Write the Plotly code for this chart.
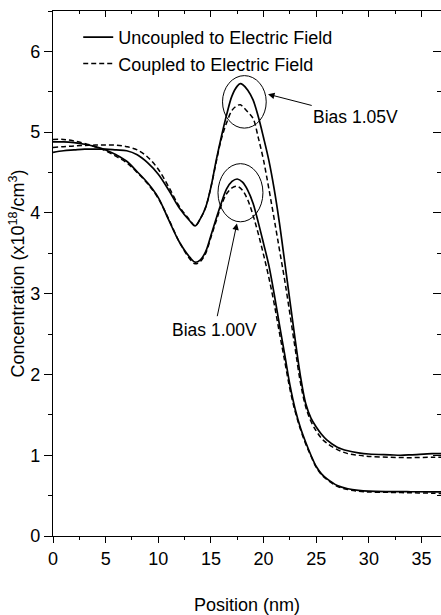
import plotly.graph_objects as go

# ---- data ----
x_u105 = [0, 1, 2, 3, 4, 5, 6, 7, 8, 9, 10, 11, 12, 13, 13.5, 14, 14.5, 15, 15.5, 16, 16.5, 17, 17.5, 17.8, 18, 18.5, 19, 19.5, 20, 20.5, 21, 21.5, 22, 22.5, 23, 23.5, 24, 24.5, 25, 25.5, 26, 27, 28, 29, 30, 32, 33, 34, 36, 36.9]
y_u105 = [4.75, 4.77, 4.78, 4.79, 4.79, 4.79, 4.78, 4.77, 4.72, 4.62, 4.48, 4.28, 4.06, 3.90, 3.84, 3.93, 4.07, 4.32, 4.65, 4.95, 5.22, 5.45, 5.57, 5.60, 5.59, 5.52, 5.40, 5.19, 4.93, 4.65, 4.30, 3.88, 3.40, 2.91, 2.43, 1.98, 1.64, 1.46, 1.35, 1.26, 1.19, 1.10, 1.055, 1.03, 1.015, 1.005, 1.0, 1.005, 1.02, 1.02]

x_c105 = [0, 1, 2, 3, 4, 5, 6, 7, 8, 9, 10, 11, 12, 13, 13.5, 14, 14.5, 15, 15.5, 16, 16.5, 17, 17.5, 17.8, 18, 18.5, 19, 19.5, 20, 20.5, 21, 21.5, 22, 22.5, 23, 23.5, 24, 24.5, 25, 25.5, 26, 27, 28, 29, 30, 32, 34, 36, 36.9]
y_c105 = [4.81, 4.82, 4.83, 4.835, 4.84, 4.84, 4.84, 4.82, 4.78, 4.69, 4.54, 4.32, 4.08, 3.91, 3.84, 3.93, 4.07, 4.32, 4.63, 4.92, 5.12, 5.27, 5.33, 5.34, 5.32, 5.25, 5.17, 4.93, 4.65, 4.30, 3.93, 3.55, 3.17, 2.75, 2.32, 1.90, 1.60, 1.42, 1.30, 1.21, 1.15, 1.07, 1.02, 1.0, 0.985, 0.975, 0.97, 0.975, 0.975]

x_u100 = [0, 1, 2, 3, 4, 5, 6, 7, 8, 9, 10, 11, 12, 13, 13.5, 14, 14.5, 15, 15.5, 16, 16.5, 17, 17.5, 18, 18.5, 19, 19.5, 20, 20.5, 21, 21.5, 22, 22.5, 23, 23.5, 24, 24.5, 25, 25.5, 26, 27, 28, 29, 30, 32, 34, 36, 36.9]
y_u100 = [4.88, 4.88, 4.87, 4.85, 4.82, 4.78, 4.72, 4.64, 4.51, 4.37, 4.19, 3.91, 3.64, 3.45, 3.39, 3.42, 3.52, 3.72, 3.93, 4.13, 4.30, 4.39, 4.42, 4.38, 4.28, 4.12, 3.88, 3.62, 3.35, 3.00, 2.62, 2.25, 1.87, 1.57, 1.34, 1.16, 1.00, 0.86, 0.77, 0.71, 0.625, 0.585, 0.565, 0.555, 0.55, 0.548, 0.547, 0.545]

x_c100 = [0, 1, 2, 3, 4, 5, 6, 7, 8, 9, 10, 11, 12, 13, 13.5, 14, 14.5, 15, 15.5, 16, 16.5, 17, 17.5, 18, 18.5, 19, 19.5, 20, 20.5, 21, 21.5, 22, 22.5, 23, 23.5, 24, 24.5, 25, 25.5, 26, 27, 28, 29, 30, 32, 34, 36, 36.9]
y_c100 = [4.91, 4.91, 4.89, 4.86, 4.82, 4.77, 4.70, 4.62, 4.50, 4.36, 4.18, 3.92, 3.64, 3.43, 3.37, 3.40, 3.50, 3.70, 3.90, 4.10, 4.24, 4.31, 4.33, 4.28, 4.16, 3.97, 3.74, 3.48, 3.20, 2.88, 2.52, 2.17, 1.82, 1.54, 1.32, 1.14, 0.99, 0.85, 0.76, 0.70, 0.615, 0.575, 0.555, 0.545, 0.54, 0.535, 0.53, 0.525]

legend_names = ["Uncoupled to Electric Field", "Coupled to Electric Field"]
bias_labels = ["Bias 1.05V", "Bias 1.00V"]

XR = [0, 36.85]
YR = [0, 6.5]
FONT = "Liberation Sans, Arial, sans-serif"

fig = go.Figure()
solid = dict(color="black", width=1.7)
dashed = dict(color="black", width=1.5, dash="5px,3px")

fig.add_trace(go.Scatter(x=x_u105, y=y_u105, mode="lines", line=solid, line_shape="spline",
                         name=legend_names[0], legendgroup="u", showlegend=True))
fig.add_trace(go.Scatter(x=x_c105, y=y_c105, mode="lines", line=dashed, line_shape="spline",
                         name=legend_names[1], legendgroup="c", showlegend=True))
fig.add_trace(go.Scatter(x=x_u100, y=y_u100, mode="lines", line=solid, line_shape="spline",
                         name=legend_names[0], legendgroup="u", showlegend=False))
fig.add_trace(go.Scatter(x=x_c100, y=y_c100, mode="lines", line=dashed, line_shape="spline",
                         name=legend_names[1], legendgroup="c", showlegend=False))
# dummy trace to activate mirror axes (top/right, inward ticks)
fig.add_trace(go.Scatter(x=[None], y=[None], xaxis="x2", yaxis="y2", showlegend=False,
                         hoverinfo="skip"))

# circles around peaks
fig.add_shape(type="circle", xref="x", yref="y", x0=16.1, x1=20.25, y0=5.05, y1=5.70,
              line=dict(color="black", width=1))
fig.add_shape(type="circle", xref="x", yref="y", x0=15.67, x1=19.94, y0=3.89, y1=4.61,
              line=dict(color="black", width=1))

# labels with arrows
fig.add_annotation(x=20.42, y=5.47, ax=28.75, ay=5.19, xref="x", yref="y", axref="x", ayref="y",
                   text=bias_labels[0], showarrow=True, arrowhead=2, arrowsize=1.3, arrowwidth=1,
                   arrowcolor="black", standoff=0, startstandoff=0,
                   font=dict(family=FONT, size=17.5, color="black"))
fig.add_annotation(x=17.47, y=3.87, ax=15.33, ay=2.555, xref="x", yref="y", axref="x", ayref="y",
                   text=bias_labels[1], showarrow=True, arrowhead=2, arrowsize=1.3, arrowwidth=1,
                   arrowcolor="black", standoff=0, startstandoff=2,
                   font=dict(family=FONT, size=17.5, color="black"))

fig.update_layout(
    width=441, height=615,
    margin=dict(l=53, r=0, t=11, b=70),
    paper_bgcolor="white", plot_bgcolor="white",
    font=dict(family=FONT, size=18, color="black"),
    showlegend=True,
    legend=dict(x=0.065, y=0.985, xanchor="left", yanchor="top", bgcolor="rgba(0,0,0,0)",
                font=dict(family=FONT, size=18), tracegroupgap=0, itemwidth=30),
    xaxis=dict(range=XR, showgrid=False, zeroline=False, showline=True, linecolor="black", linewidth=1.3,
               ticks="outside", ticklen=6, tickwidth=1.3, tickcolor="black", dtick=5, tick0=0,
               minor=dict(ticks="outside", ticklen=3, tickwidth=1.3, dtick=2.5, tick0=0, tickcolor="black"),
               title=dict(text="Position (nm)", standoff=34, font=dict(size=18)),
               tickfont=dict(size=18)),
    yaxis=dict(range=YR, showgrid=False, zeroline=False, showline=True, linecolor="black", linewidth=1.3,
               ticks="outside", ticklen=8, tickwidth=1.3, tickcolor="black", dtick=1, tick0=0,
               minor=dict(ticks="outside", ticklen=4, tickwidth=1.3, dtick=0.5, tick0=0, tickcolor="black"),
               title=dict(text="Concentration (x10<sup>18</sup>/cm<sup>3</sup>)", standoff=0, font=dict(size=18)),
               tickfont=dict(size=18)),
    xaxis2=dict(range=XR, overlaying="x", side="top", anchor="y2", showgrid=False, zeroline=False,
                showline=True, linecolor="black", linewidth=1.3, ticks="inside", ticklen=6, tickwidth=1.3,
                tickcolor="black", dtick=5, tick0=0, showticklabels=False,
                minor=dict(ticks="inside", ticklen=3, tickwidth=1.3, dtick=2.5, tick0=0, tickcolor="black")),
    yaxis2=dict(range=YR, overlaying="y", side="right", anchor="x2", showgrid=False, zeroline=False,
                showline=True, linecolor="black", linewidth=1.3, ticks="inside", ticklen=8, tickwidth=1.3,
                tickcolor="black", dtick=1, tick0=0, showticklabels=False,
                minor=dict(ticks="inside", ticklen=4, tickwidth=1.3, dtick=0.5, tick0=0, tickcolor="black")),
)

fig.write_html("out.html")
